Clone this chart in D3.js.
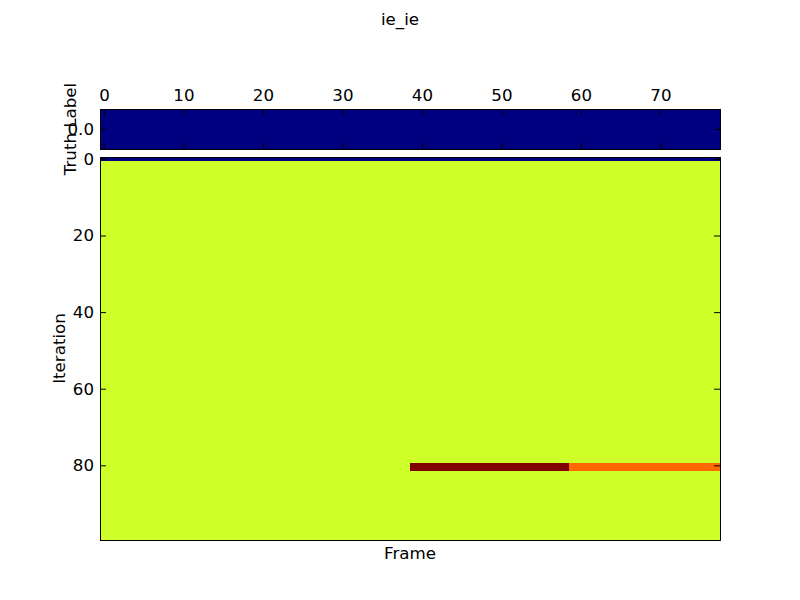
<!DOCTYPE html>
<html>
<head>
<meta charset="utf-8">
<script src="https://cdn.jsdelivr.net/npm/d3@7"></script>
<style>
  body { margin: 0; background: #fff; }
  text { font-family: "DejaVu Sans", sans-serif; }
</style>
</head>
<body>
<div id="chart"></div>
<script>
// Chart data

var chartTitle = "ie_ie";
var frameTicks = [0, 10, 20, 30, 40, 50, 60, 70];
var iterationTicks = [0, 20, 40, 60, 80];
var truthTicks = [0];
var frameCount = 78;
var iterationCount = 100;

// truth label for each frame (one row)
var truthLabel = [
    0,0,0,0,0,0,0,0,0,0, 0,0,0,0,0,0,0,0,0,0,
    0,0,0,0,0,0,0,0,0,0, 0,0,0,0,0,0,0,0,0,0,
    0,0,0,0,0,0,0,0,0,0, 0,0,0,0,0,0,0,0,0,0,
    0,0,0,0,0,0,0,0,0,0, 0,0,0,0,0,0,0,0
];

// predicted label per iteration, run-length coded: rows [first,last], runs [value, nFrames]
var iterationRuns = [
    {rows: [0, 0],   runs: [[0, 78]]},
    {rows: [1, 79],  runs: [[3, 78]]},
    {rows: [80, 81], runs: [[3, 39], [5, 20], [4, 19]]},
    {rows: [82, 99], runs: [[3, 78]]}
];

var colorMin = 0, colorMax = 5;

// expand the runs into cells
var cells = [];
iterationRuns.forEach(function(block) {
    for (var r = block.rows[0]; r <= block.rows[1]; r++) {
        var f = 0;
        block.runs.forEach(function(run) {
            for (var k = 0; k < run[1]; k++) {
                cells.push({row: r, frame: f, value: run[0]});
                f++;
            }
        });
    }
});

// matplotlib "jet" colour map
var jetR = d3.scaleLinear().domain([0, 0.35, 0.66, 0.89, 1]).range([0, 0, 1, 1, 0.5]).clamp(true);
var jetG = d3.scaleLinear().domain([0, 0.125, 0.375, 0.64, 0.91, 1]).range([0, 0, 1, 1, 0, 0]).clamp(true);
var jetB = d3.scaleLinear().domain([0, 0.11, 0.34, 0.65, 1]).range([0.5, 1, 1, 0, 0]).clamp(true);
var norm = d3.scaleLinear().domain([colorMin, colorMax]).range([0, 1]).clamp(true);
var myColor = function(v) {
    var t = norm(v);
    return d3.rgb(Math.round(jetR(t) * 255), Math.round(jetG(t) * 255), Math.round(jetB(t) * 255)).formatHex();
};

var width = 800, height = 600;
var fontSize = "16.67px";
var svg = d3.select("#chart").append("svg")
    .attr("width", width)
    .attr("height", height);

var left = 100, right = 720;
var topPanel = {top: 109, bottom: 149};
var mainPanel = {top: 157, bottom: 540};
var tickLen = 6;

var x = d3.scaleLinear().domain([-0.5, frameCount - 0.5]).range([left, right]);
var yTop = d3.scaleLinear().domain([-0.5, 0.5]).range([topPanel.top, topPanel.bottom]);
var y = d3.scaleLinear().domain([-0.5, iterationCount - 0.5]).range([mainPanel.top, mainPanel.bottom]);

// Title
svg.append("text")
    .attr("x", 400)
    .attr("y", 25)
    .attr("text-anchor", "middle")
    .style("font-size", fontSize)
    .text(chartTitle);

// Top panel: truth label
svg.append("g")
    .selectAll("rect")
    .data(truthLabel)
    .enter()
    .append("rect")
    .attr("x", function(d, i) { return x(i - 0.5); })
    .attr("y", yTop(-0.5))
    .attr("width", x(1) - x(0) + 0.5)
    .attr("height", yTop(0.5) - yTop(-0.5))
    .attr("shape-rendering", "crispEdges")
    .style("fill", function(d) { return myColor(d); });

// Main panel: iterations
svg.append("g")
    .selectAll("rect")
    .data(cells)
    .enter()
    .append("rect")
    .attr("x", function(d) { return x(d.frame - 0.5); })
    .attr("y", function(d) { return y(d.row - 0.5); })
    .attr("width", x(1) - x(0) + 0.5)
    .attr("height", y(1) - y(0) + 0.5)
    .attr("shape-rendering", "crispEdges")
    .style("fill", function(d) { return myColor(d.value); });

// Axes, classic matplotlib style with inward ticks
var topAxis = svg.append("g")
    .attr("transform", "translate(0," + topPanel.top + ")")
    .style("font-size", fontSize)
    .call(d3.axisTop(x).tickValues(frameTicks).tickSizeInner(-tickLen).tickSizeOuter(0).tickPadding(8));
topAxis.select(".domain").remove();

var topAxisBottom = svg.append("g")
    .attr("transform", "translate(0," + topPanel.bottom + ")")
    .call(d3.axisBottom(x).tickValues(frameTicks).tickSizeInner(-tickLen).tickSizeOuter(0).tickFormat(""));
topAxisBottom.select(".domain").remove();

var topLeft = svg.append("g")
    .attr("transform", "translate(" + left + ",0)")
    .style("font-size", fontSize)
    .call(d3.axisLeft(yTop).tickValues(truthTicks).tickSizeInner(-tickLen).tickSizeOuter(0).tickPadding(6));
topLeft.select(".domain").remove();

var topRight = svg.append("g")
    .attr("transform", "translate(" + right + ",0)")
    .call(d3.axisRight(yTop).tickValues(truthTicks).tickSizeInner(-tickLen).tickSizeOuter(0).tickFormat(""));
topRight.select(".domain").remove();

var mainLeft = svg.append("g")
    .attr("transform", "translate(" + left + ",0)")
    .style("font-size", fontSize)
    .call(d3.axisLeft(y).tickValues(iterationTicks).tickSizeInner(-tickLen).tickSizeOuter(0).tickPadding(6));
mainLeft.select(".domain").remove();

var mainRight = svg.append("g")
    .attr("transform", "translate(" + right + ",0)")
    .call(d3.axisRight(y).tickValues(iterationTicks).tickSizeInner(-tickLen).tickSizeOuter(0).tickFormat(""));
mainRight.select(".domain").remove();

svg.selectAll(".tick text")
    .style("font-family", "DejaVu Sans, sans-serif")
    .attr("fill", "#000");
svg.selectAll(".tick line").attr("stroke", "#000");

// Panel frames
[topPanel, mainPanel].forEach(function(p) {
    svg.append("rect")
        .attr("x", left)
        .attr("y", p.top)
        .attr("width", right - left)
        .attr("height", p.bottom - p.top)
        .attr("shape-rendering", "crispEdges")
        .style("fill", "none")
        .style("stroke", "#000")
        .style("stroke-width", 1);
});

// Axis labels
svg.append("text")
    .attr("transform", "translate(76," + ((topPanel.top + topPanel.bottom) / 2) + ") rotate(-90)")
    .attr("text-anchor", "middle")
    .style("font-size", fontSize)
    .text("Truth Label");

svg.append("text")
    .attr("transform", "translate(65," + ((mainPanel.top + mainPanel.bottom) / 2) + ") rotate(-90)")
    .attr("text-anchor", "middle")
    .style("font-size", fontSize)
    .text("Iteration");

svg.append("text")
    .attr("x", (left + right) / 2)
    .attr("y", 559)
    .attr("text-anchor", "middle")
    .style("font-size", fontSize)
    .text("Frame");
</script>
</body>
</html>
